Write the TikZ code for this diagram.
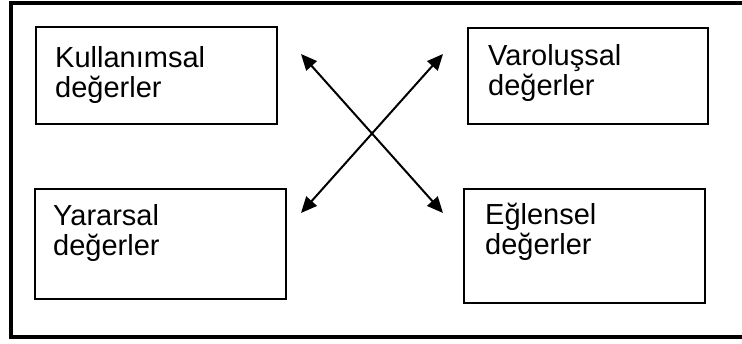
\documentclass[tikz,border=0pt]{standalone}
\usepackage{fontspec}
\setmainfont{Liberation Sans}
\usetikzlibrary{arrows.meta}
\begin{document}
\begin{tikzpicture}[x=1pt,y=-1pt,
  box/.style={draw,line width=2pt,inner sep=0pt},
  lbl/.style={anchor=base west,inner sep=0pt,align=left,font=\fontsize{29}{30.5}\selectfont},
  dbl/.style={line width=2pt,{Triangle[length=16pt,width=14pt]}-{Triangle[length=16pt,width=14pt]},shorten <=0pt,shorten >=0pt}]
\useasboundingbox (0,0) rectangle (742,343);
\draw[line width=4pt] (748,2.5) -- (10.5,2.5) -- (10.5,337) -- (748,337);
\node[box,minimum width=241pt,minimum height=97pt,anchor=north west] (k) at (35,26) {};
\node[box,minimum width=240pt,minimum height=96pt,anchor=north west] (v) at (467,27) {};
\node[box,minimum width=251pt,minimum height=110pt,anchor=north west] (y) at (34,188) {};
\node[box,minimum width=241pt,minimum height=114pt,anchor=north west] (e) at (463,188) {};
\node[lbl] (kt) at (55,97.5) {Kullanımsal\\değerler};
\node[lbl] (vt) at (488,95.5) {Varoluşsal\\değerler};
\node[lbl] (yt) at (53,255.5) {Yararsal\\değerler};
\node[lbl] (et) at (485,254.5) {Eğlensel\\değerler};
\coordinate (a1) at (301,54);
\coordinate (a2) at (443,213);
\coordinate (b1) at (443,54);
\coordinate (b2) at (301,213);
\draw[dbl] (a1) -- (a2);
\draw[dbl] (b1) -- (b2);
\end{tikzpicture}
\end{document}
